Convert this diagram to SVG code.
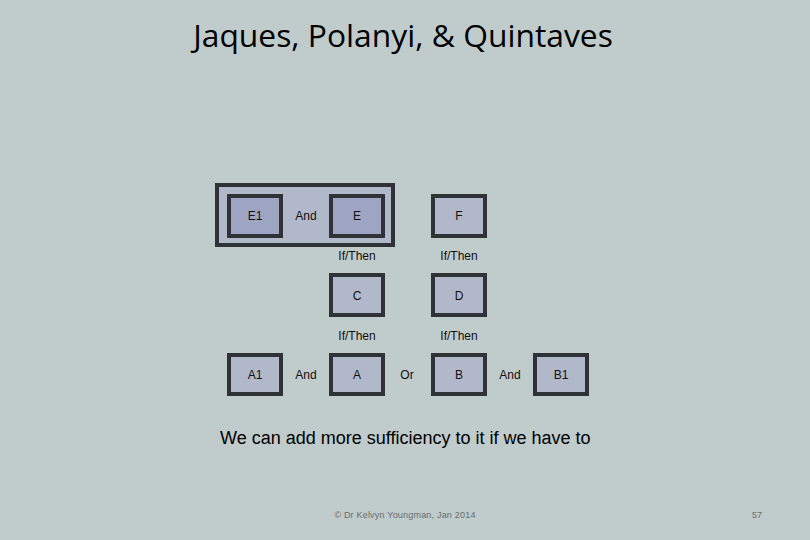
<svg xmlns="http://www.w3.org/2000/svg" width="810" height="540" viewBox="0 0 810 540">
<style>
.box{fill:#b1b8c9;stroke:#2f3236;stroke-width:4}
.dark{fill:#9ea5c3}
.t{font-family:"Liberation Sans",Arial,sans-serif;font-size:12px;fill:#111;text-anchor:middle}
</style>
<rect width="810" height="540" fill="#c0cbcb"/>
<text x="403" y="47" font-family="'Open Sans','Noto Sans',sans-serif" font-size="31.8" text-anchor="middle" fill="#000">Jaques, Polanyi, &amp; Quintaves</text>
<g id="group"><rect class="box" x="217" y="185" width="176" height="60"/></g>
<g id="E1"><rect class="box dark" x="229" y="196" width="52" height="40"/><text class="t" x="255" y="220">E1</text></g>
<g id="E"><rect class="box dark" x="331" y="196" width="52" height="40"/><text class="t" x="357" y="220">E</text></g>
<g id="F"><rect class="box" x="433" y="196" width="52" height="40"/><text class="t" x="459" y="220">F</text></g>
<g id="C"><rect class="box" x="331" y="275" width="52" height="40"/><text class="t" x="357" y="300">C</text></g>
<g id="D"><rect class="box" x="433" y="275" width="52" height="40"/><text class="t" x="459" y="300">D</text></g>
<g id="A1"><rect class="box" x="229" y="355" width="52" height="39"/><text class="t" x="255" y="379">A1</text></g>
<g id="A"><rect class="box" x="331" y="355" width="52" height="39"/><text class="t" x="357" y="379">A</text></g>
<g id="B"><rect class="box" x="433" y="355" width="52" height="39"/><text class="t" x="459" y="379">B</text></g>
<g id="B1"><rect class="box" x="535" y="355" width="52" height="39"/><text class="t" x="561" y="379">B1</text></g>
<g id="connectors">
<text class="t" x="306" y="220">And</text>
<text class="t" x="357" y="260">If/Then</text>
<text class="t" x="459" y="260">If/Then</text>
<text class="t" x="357" y="340">If/Then</text>
<text class="t" x="459" y="340">If/Then</text>
<text class="t" x="306" y="379">And</text>
<text class="t" x="407" y="379">Or</text>
<text class="t" x="510" y="379">And</text>
</g>
<text x="220" y="444" font-family="'Liberation Sans',Arial,sans-serif" font-size="18" fill="#000">We can add more sufficiency to it if we have to</text>
<text x="405" y="518" font-family="'Liberation Sans',Arial,sans-serif" font-size="9" fill="#686d6e" text-anchor="middle" letter-spacing="0.2">© Dr Kelvyn Youngman, Jan 2014</text>
<text x="757" y="518" font-family="'Liberation Sans',Arial,sans-serif" font-size="9" fill="#686d6e" text-anchor="middle">57</text>
</svg>
